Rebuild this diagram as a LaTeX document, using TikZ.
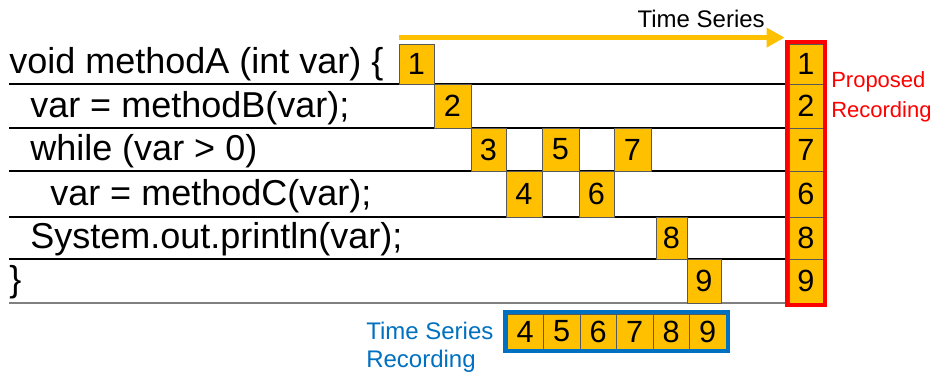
\documentclass[tikz,border=0pt]{standalone}
\usepackage{fontspec}
\setmainfont{Liberation Sans}
\usetikzlibrary{arrows.meta,fit}
\definecolor{amber}{HTML}{FFC000}
\definecolor{recblue}{HTML}{0070C0}

\begin{document}
\begin{tikzpicture}[x=.75pt, y=-.75pt,
  cell/.style={draw=black!65, line width=.6pt, fill=amber, inner sep=0pt,
    font=\fontsize{23}{23}\selectfont},
  span/.style n args={4}{minimum width={(#2-#1)*.75pt},
    minimum height={(#4-#3)*.75pt}},
  code/.style={anchor=base west, inner sep=0pt, font=\fontsize{27}{27}\selectfont},
  recframe/.style={draw=#1, line width=3pt, inner sep=1.5pt},
  note/.style={anchor=north west, inner sep=0pt, align=left}]
  \useasboundingbox (0,0) rectangle (934,378);

  \node[code] (l1) at (9,74)  {void methodA (int var) \{};
  \node[code] (l2) at (30,117) {var = methodB(var);};
  \node[code] (l3) at (30,160) {while (var > 0)};
  \node[code] (l4) at (50,205) {var = methodC(var);};
  \node[code] (l5) at (30,248) {System.out.println(var);};
  \node[code] (l6) at (9,291)  {\}};

  \foreach \y in {84,128,171,217,259}
    \draw[line width=.8pt] (9,\y) -- (787,\y);
  \draw[line width=1.5pt, black!50] (9,303) -- (787,303);

  % steps in the order they run
  \foreach \n/\xa/\xb/\ya/\yb in {1/399/434/44/84, 2/434/471/84/128,
      3/471/506/128/171, 4/506/542/171/217, 5/542/579/128/171,
      6/579/614/171/217, 7/614/651/128/171, 8/656/687/217/259,
      9/687/721/259/303}
    \node[cell, span={\xa}{\xb}{\ya}{\yb}] (t\n)
      at ({(\xa+\xb)/2},{(\ya+\yb)/2}) {\n};

  % last step kept per line
  \foreach \n/\ya/\yb [count=\i] in {1/44/84, 2/84/128, 7/128/171,
      6/171/217, 8/217/259, 9/259/303}
    \node[cell, span={789}{823}{\ya}{\yb}] (p\i) at (806,{(\ya+\yb)/2}) {\n};
  \node[recframe=red, fit=(p1)(p6)] (prop) {};
  \node[note, text=red, font=\fontsize{16.5}{22.5}\selectfont] (propl) at (831,71)
    {Proposed\\Recording};

  \coordinate (t0) at ([yshift=4.5pt]t1.north west);
  \draw[amber, line width=4.3pt, -{Triangle[length=13.5pt, width=14pt]}]
    (t0) -- (t0 -| prop.west);
  \node[anchor=base east, inner sep=0pt, font=\fontsize{18}{18}\selectfont] (ts)
    at (765,28) {Time Series};

  % every step after the loop starts
  \foreach \n [count=\i] in {4,...,9}
    \node[cell, minimum width=27.4pt, minimum height=26.25pt] (b\i)
      at (488.75+36.5*\i,331.5) {\n};
  \node[recframe=recblue, fit=(b1)(b6)] (tsr) {};
  \node[note, text=recblue, font=\fontsize{18}{21}\selectfont] (tsrl) at (366,322)
    {Time Series\\Recording};
\end{tikzpicture}
\end{document}
